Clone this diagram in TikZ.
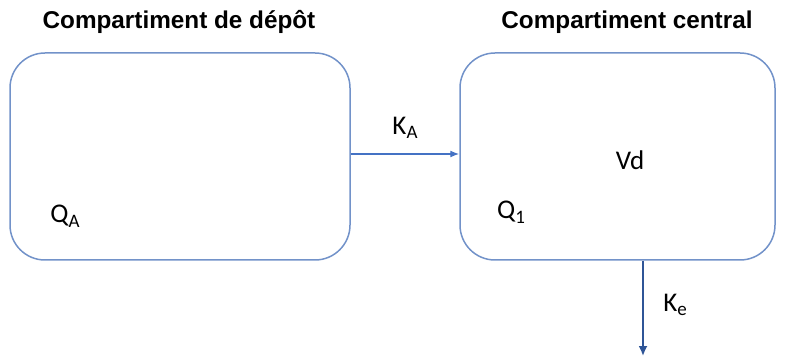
\documentclass[tikz,border=0pt]{standalone}
\usepackage{fontspec}
\setmainfont{Liberation Sans}
\newfontfamily\labfont{Carlito}
\usetikzlibrary{arrows.meta}
\definecolor{boxline}{RGB}{114,146,201}
\definecolor{flowblue}{RGB}{68,114,196}
\definecolor{elimblue}{RGB}{47,85,151}
\newcommand{\sbs}[1]{\raisebox{-0.17em}{\fontsize{19}{19}\selectfont #1}}
\tikzset{
  compbox/.style={draw=boxline, line width=1.5pt, rounded corners=35pt, inner sep=0pt},
  title/.style={font=\fontsize{24.3}{28}\selectfont\bfseries, inner sep=0pt},
  lab/.style={font=\labfont\fontsize{27}{30}\selectfont, inner sep=0pt},
}
\begin{document}
\begin{tikzpicture}[x=1pt,y=-1pt]
  \useasboundingbox (0,0) rectangle (790,358);
  % compartments
  \node[compbox, minimum width=340pt, minimum height=207pt] (depot) at (180,156.5) {};
  \node[compbox, minimum width=315pt, minimum height=207pt] (central) at (617.5,156.5) {};
  % titles
  \node[title] (tdepot) at (179,22) {Compartiment de dépôt};
  \node[title] (tcentral) at (627,22) {Compartiment central};
  % labels inside
  \node[lab] (qa) at (65,216) {Q\sbs{A}};
  \node[lab] (q1) at (511,212) {Q\sbs{1}};
  \node[lab] (vd) at (630,160) {Vd};
  % absorption
  \draw[flowblue, line width=1.3pt, -{Latex[length=9pt,width=7pt]}]
    ([yshift=2.5pt]depot.east) -- ([yshift=2.5pt]central.west);
  \node[lab] (ka) at (405,128) {K\sbs{A}};
  % elimination
  \coordinate (elimend) at (643,356);
  \draw[elimblue, line width=1.8pt, -{Latex[length=10pt,width=9pt]}] ([xshift=25.5pt]central.south) -- (elimend);
  \node[lab] (ke) at (675,305) {K\sbs{e}};
\end{tikzpicture}
\end{document}
